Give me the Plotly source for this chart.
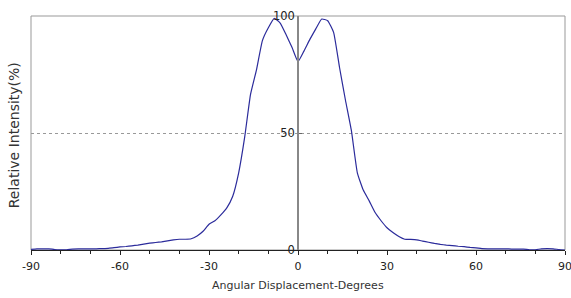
import plotly.graph_objects as go

angle_deg = [-90, -88, -86, -84, -82, -80, -78, -76, -74, -72, -70, -68, -66, -64, -62, -60,
             -58, -56, -54, -52, -50, -48, -46, -44, -42, -40, -38, -36, -34, -32, -30,
             -28, -26, -24, -22, -20, -18, -16, -14, -12, -10, -8, -6, -4, -2, 0,
             2, 4, 6, 8, 10, 12, 14, 16, 18, 20, 22, 24, 26, 28, 30,
             32, 34, 36, 38, 40, 42, 44, 46, 48, 50, 52, 54, 56, 58, 60,
             62, 64, 66, 68, 70, 72, 74, 76, 78, 80, 82, 84, 86, 88, 90]
intensity = [0.3, 0.5, 0.5, 0.5, 0.2, 0.1, 0.1, 0.4, 0.5, 0.5, 0.5, 0.5, 0.6, 0.7, 1.0, 1.3,
             1.5, 1.8, 2.1, 2.5, 2.9, 3.2, 3.5, 3.9, 4.3, 4.6, 4.6, 4.8, 6.0, 8.0, 11.0,
             12.5, 15.0, 18.0, 23.0, 33.0, 48.0, 66.5, 77.0, 89.5, 95.0, 99.0, 97.0, 92.0, 86.5, 80.5,
             85.0, 90.0, 94.5, 98.7, 98.0, 93.0, 78.0, 64.0, 51.0, 33.0, 25.6, 21.0, 16.0, 12.5, 9.5,
             7.5, 5.8, 4.6, 4.5, 4.3, 3.8, 3.3, 2.8, 2.4, 2.1, 1.9, 1.6, 1.4, 1.1, 0.9,
             0.6, 0.5, 0.5, 0.5, 0.5, 0.4, 0.4, 0.4, 0.1, 0.1, 0.5, 0.6, 0.5, 0.2, 0.0]

x_ticks = [-90, -60, -30, 0, 30, 60, 90]
y_ticks = [0, 50, 100]

fig = go.Figure()
fig.add_trace(go.Scatter(x=angle_deg, y=intensity, mode="lines",
                         line=dict(color="#2b2b9b", width=1.2, shape="spline", smoothing=0.4),
                         hoverinfo="skip", showlegend=False, cliponaxis=False))

font_main = "DejaVu Sans"
fig.update_layout(
    width=571, height=298,
    margin=dict(l=31, r=6, t=16, b=48, autoexpand=False),
    paper_bgcolor="white", plot_bgcolor="white",
    font=dict(family=font_main, size=11, color="#222"),
    xaxis=dict(range=[-90, 90], tickvals=x_ticks, ticktext=[str(v) for v in x_ticks],
               ticks="outside", ticklen=4, tickcolor="#222", showgrid=False, zeroline=False,
               showline=True, linecolor="#222", linewidth=1, automargin=False,
               ticklabeloverflow="allow", ticklabelstandoff=2,
               minor=dict(dtick=10, tick0=0, ticks="outside", ticklen=3, tickcolor="#222"),
               tickfont=dict(size=11)),
    yaxis=dict(range=[0, 100], tickvals=y_ticks, ticks="inside", ticklen=3, tickcolor="#666",
               anchor="free", position=0.5, side="left", showline=True, linecolor="#888",
               linewidth=1.5, showgrid=True, gridcolor="#999", griddash="dot", gridwidth=1,
               zeroline=False, tickfont=dict(size=11.5), automargin=False,
               ticklabeloverflow="allow"),
    shapes=[dict(type="rect", xref="paper", yref="paper", x0=0, x1=1, y0=0, y1=1,
                 line=dict(color="#999", width=1), layer="below")],
    annotations=[
        dict(text="Relative Intensity(%)", xref="paper", yref="paper", x=-0.032, y=0.49,
             textangle=-90, showarrow=False, font=dict(size=14, color="#333"),
             xanchor="center", yanchor="middle"),
        dict(text="Angular Displacement-Degrees", xref="paper", yref="paper", x=0.5, y=-0.15,
             showarrow=False, font=dict(size=11, color="#333"), xanchor="center", yanchor="middle"),
    ],
)

fig.write_html("out.html", config={"displayModeBar": False},
               post_script="document.body.style.margin='0';document.body.style.overflow='hidden';")
